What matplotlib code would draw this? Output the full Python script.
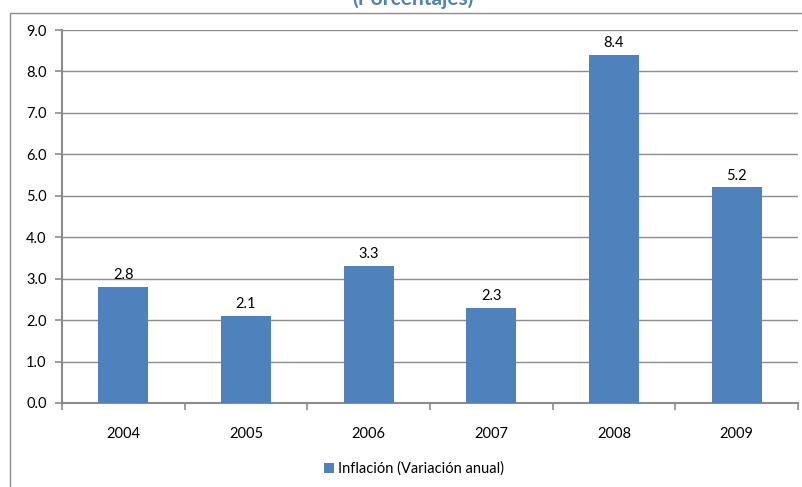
import matplotlib
matplotlib.use("Agg")
import matplotlib.pyplot as plt
from matplotlib.patches import Rectangle

plt.rcParams['font.family'] = ['Lato', 'DejaVu Sans']

years = ["2004", "2005", "2006", "2007", "2008", "2009"]
inflation = [2.8, 2.1, 3.3, 2.3, 8.4, 5.2]
series_name = "Inflación (Variación anual)"
subtitle = "(Porcentajes)"

W, H = 803, 487
fig = plt.figure(figsize=(W / 100, H / 100), dpi=100)

# outer chart frame
fig.add_artist(Rectangle((10 / W, -0.05), 1.2, (H - 13) / H + 0.05,
                         transform=fig.transFigure, fill=False,
                         edgecolor="#8c8c8c", linewidth=1.0))

ax = fig.add_axes([62 / W, 1 - 403 / H, (798 - 62) / W, (403 - 30) / H])
x = list(range(len(years)))
bars = ax.bar(x, inflation, width=0.41, color="#4F81BD", zorder=3)
for xi, v in zip(x, inflation):
    ax.text(xi, v + 0.12, f"{v:.1f}", ha="center", va="bottom", fontsize=10.5,
            color="#000000")

ax.set_xlim(-0.5, len(years) - 0.5)
ax.set_ylim(0, 9)
ax.set_yticks([i * 1.0 for i in range(10)])
ax.set_yticklabels([f"{i:.1f}" for i in range(10)], fontsize=10.5)
ax.yaxis.grid(True, color="#8c8c8c", linewidth=1.0, zorder=0)
ax.set_axisbelow(True)

ax.set_xticks(x)
ax.set_xticklabels(years, fontsize=10.5)
ax.tick_params(axis="x", length=0, pad=17)
ax.set_xticks([i - 0.5 for i in range(len(years) + 1)], minor=True)
ax.tick_params(axis="x", which="minor", length=5, color="#8c8c8c", width=1.2)
ax.tick_params(axis="y", length=5, color="#8c8c8c", width=1.2, pad=6)

for side in ("top", "right"):
    ax.spines[side].set_visible(False)
for side in ("left", "bottom"):
    ax.spines[side].set_color("#8c8c8c")
    ax.spines[side].set_linewidth(1.5)

fig.text(413 / W, 1 - 5 / H, subtitle, ha="center", va="baseline",
         fontsize=15, fontweight="bold", color="#4F81BD")

leg = fig.legend([bars], [series_name], loc="center", bbox_to_anchor=(414 / W, 1 - 469 / H),
                 frameon=False, fontsize=10.5, handlelength=0.7, handleheight=0.7,
                 handletextpad=0.3)

fig.savefig("out.png", dpi=100)
